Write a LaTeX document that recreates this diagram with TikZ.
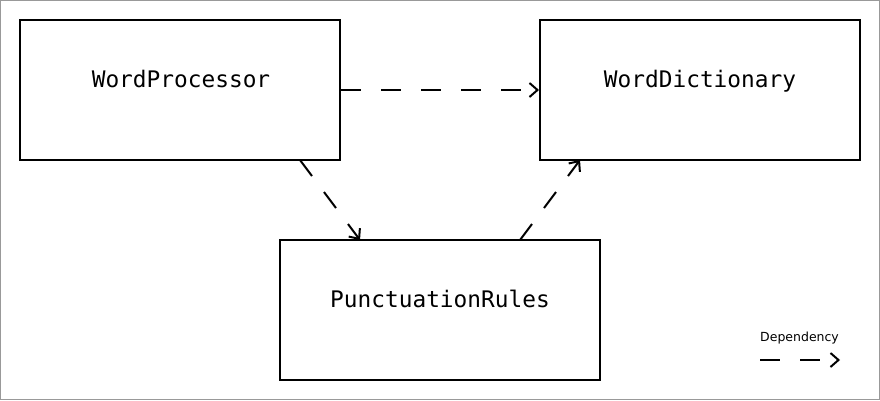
\documentclass[tikz,border=0pt]{standalone}
\usepackage{fontspec}
\setmainfont{DejaVu Sans}
\newfontfamily\boxmono{DejaVu Sans Mono}
\usetikzlibrary{arrows.meta}
\begin{document}
\begin{tikzpicture}[x=1pt,y=-1pt,
  cls/.style={draw=black,line width=2pt,minimum width=320pt,minimum height=140pt,inner sep=0pt},
  lbl/.style={font=\boxmono\fontsize{22.8}{26}\selectfont,anchor=base,inner sep=0pt},
  dep/.style={line width=2pt,dash pattern=on 20pt off 20pt,-{Straight Barb[length=8pt,width=14pt,line width=2pt]}}]
\path[use as bounding box,draw=gray!80,line width=1pt] (0.5,0.5) rectangle (879.5,399.5);
\node[cls] (wp) at (180,90) {};
\node[cls] (wd) at (700,90) {};
\node[cls] (pr) at (440,310) {};
\node[lbl] (wpt) at (181,87) {WordProcessor};
\node[lbl] (wdt) at (700,87) {WordDictionary};
\node[lbl] (prt) at (440,307) {PunctuationRules};
\coordinate (a1) at (300,160);
\coordinate (a2) at (360,240);
\coordinate (b1) at (520,240);
\coordinate (b2) at (580,160);
\draw[dep] (wp.east) -- (wd.west);
\draw[dep] (a1) -- (a2);
\draw[dep] (b1) -- (b2);
\node[font=\fontsize{12.5}{14}\selectfont,anchor=base west,inner sep=0pt] (legt) at (760,341) {Dependency};
\coordinate (l1) at (760,360);
\coordinate (l2) at (840,360);
\draw[dep] (l1) -- (l2);
\end{tikzpicture}
\end{document}
